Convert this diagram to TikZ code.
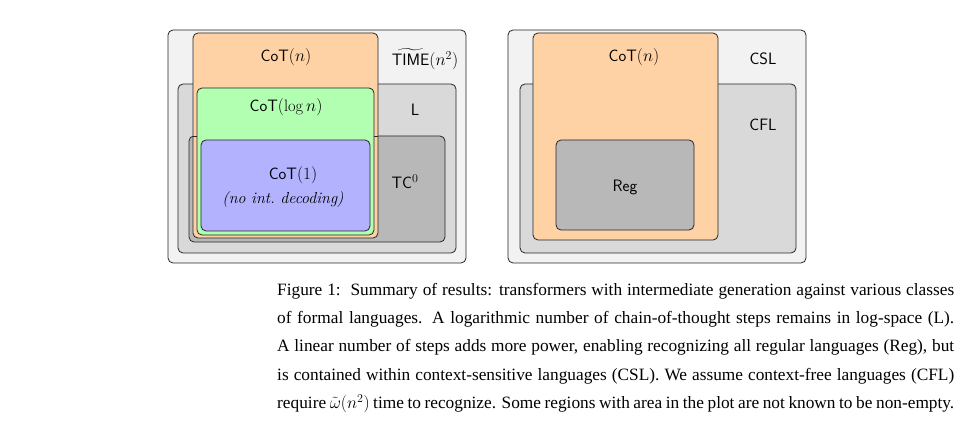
\documentclass[tikz,border=0pt]{standalone}
\usepackage{amsmath}
\usepackage{fontspec}
\newfontfamily\capfont{Liberation Serif}
\begin{document}
\begin{tikzpicture}[x=1pt,y=-1pt,
  bx/.style={draw=black!85,line width=0.8pt,rounded corners=5pt},
  lab/.style={font=\sffamily\fontsize{16.5}{19}\selectfont,inner sep=0pt}]
\useasboundingbox[fill=white] (0,0) rectangle (960,427);
% left
\path[bx,fill=black!5] (168,30) rectangle (466,263);
\path[bx,fill=black!15] (178,84) rectangle (456,253);
\path[bx,fill=black!28] (189,136) rectangle (445,242);
\path[bx,fill=orange!35] (193,33) rectangle (378,238);
\draw[black!85,line width=0.8pt] (193,136) -- (378,136);
\path[bx,fill=green!30] (197,88) rectangle (374,235);
\path[bx,fill=blue!30] (201,140) rectangle (370,231);
\node[lab] (cotn) at (286,57) {CoT$(n)$};
\node[lab] (time) at (425,59) {$\widetilde{\textsf{TIME}}(n^2)$};
\node[lab] (cotlog) at (286,107) {CoT$(\log n)$};
\node[lab] (L) at (415,110) {L};
\node[lab] (cot1) at (293,175) {CoT$(1)$};
\node[inner sep=0pt,font=\fontsize{16}{19}\selectfont\itshape] (noint) at (283,200) {(no int.\ decoding)};
\node[lab] (tc) at (405,182) {TC$^0$};
% right
\path[bx,fill=black!5] (508,30) rectangle (806,263);
\path[bx,fill=black!15] (520,84) rectangle (796,253);
\path[bx,fill=orange!35] (533,33) rectangle (718,240);
\path[bx,fill=black!28] (556,140) rectangle (694,230);
\node[lab] (cotn2) at (634,57) {CoT$(n)$};
\node[lab] (csl) at (763,59) {CSL};
\node[lab] (cfl) at (763,125) {CFL};
\node[lab] (reg) at (625,187) {Reg};
% caption
\node[anchor=north west,inner sep=0pt,text width=677pt,align=justify,font=\capfont\fontsize{17.3}{28.3}\selectfont] (cap) at (277,283)
{Figure 1:\ \ Summary of results: transformers with intermediate generation against various classes of formal languages. A logarithmic number of chain-of-thought steps remains in log-space (L). A linear number of steps adds more power, enabling recognizing all regular languages (Reg), but is contained within context-sensitive languages (CSL). We assume context-free languages (CFL) require $\tilde{\omega}(n^2)$ time to recognize. Some regions with area in the plot are not known to be non-empty.};
\end{tikzpicture}
\end{document}
